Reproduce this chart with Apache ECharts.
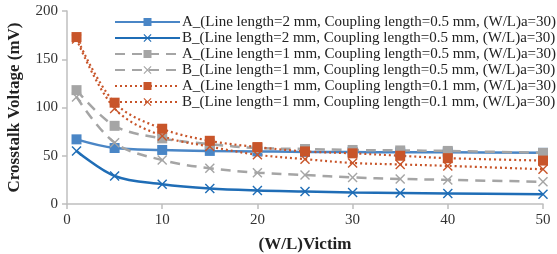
<!DOCTYPE html>
<html lang="en">
<head>
    <meta charset="UTF-8">
    <title>crosstalk</title>
    <script src="https://cdn.jsdelivr.net/npm/echarts@6/dist/echarts.min.js"></script>
    <style>
        html, body { margin: 0; padding: 0; background: #fff; }
    </style>
</head>
<body>
<div id="main" style="width:557px;height:254px;"></div>
<script>
    // W/L of victim line
    var wl = [1, 5, 10, 15, 20, 25, 30, 35, 40, 50];

    var names = [
        'A_(Line length=2 mm, Coupling length=0.5 mm, (W/L)a=30)',
        'B_(Line length=2 mm, Coupling length=0.5 mm, (W/L)a=30)',
        'A_(Line length=1 mm, Coupling length=0.5 mm, (W/L)a=30)',
        'B_(Line length=1 mm, Coupling length=0.5 mm, (W/L)a=30)',
        'A_(Line length=1 mm, Coupling length=0.1 mm, (W/L)a=30)',
        'B_(Line length=1 mm, Coupling length=0.1 mm, (W/L)a=30)'
    ];

    var a2_05 = [67, 58, 56, 55, 54.5, 54, 54, 53.5, 53.5, 53];
    var b2_05 = [55, 29, 20.5, 16, 14, 13, 12, 11.5, 11, 10];
    var a1_05 = [118, 81, 68, 62, 58, 57, 56, 55.5, 55, 53];
    var b1_05 = [111, 63.5, 45.5, 37, 32.5, 30, 27.5, 26, 25, 23];
    var a1_01 = [173, 105, 78, 65.5, 59, 54.5, 52.5, 50, 47.5, 45];
    var b1_01 = [171, 99, 70.5, 59.5, 51, 46.5, 42.5, 41, 39.5, 36];

    var cross = 'path://M0,1L1,0L5,4L9,0L10,1L6,5L10,9L9,10L5,6L1,10L0,9L4,5Z';
    var serif = '"Liberation Serif", "DejaVu Serif", serif';

    function pairs(vals) {
        var out = [];
        for (var i = 0; i < wl.length; i++) {
            out.push([wl[i], vals[i]]);
        }
        return out;
    }

    function mk(name, vals, color, symbol, lineType, width) {
        return {
            name: name,
            type: 'line',
            data: pairs(vals),
            smooth: 0.35,
            symbol: symbol,
            symbolSize: 10,
            color: color,
            itemStyle: { color: color },
            lineStyle: { color: color, width: width, type: lineType },
            z: 2
        };
    }

    var myChart = echarts.init(document.getElementById('main'));

    var option = {
        animation: false,
        grid: { left: 67, right: 14, top: 11, bottom: 50, containLabel: false, outerBoundsMode: 'none' },
        legend: {
            orient: 'vertical',
            left: 109,
            top: 9,
            itemWidth: 65,
            itemHeight: 10,
            itemGap: 0,
            textStyle: { fontFamily: serif, fontSize: 15, lineHeight: 16, color: '#222', padding: [0, 0, 0, -3] },
            data: names
        },
        xAxis: {
            type: 'value',
            min: 0, max: 50, interval: 10,
            name: '(W/L)Victim',
            nameLocation: 'middle',
            nameGap: 32,
            nameTextStyle: { fontFamily: serif, fontSize: 17, fontWeight: 'bold', color: '#222' },
            axisLine: { lineStyle: { color: '#bfbfbf', width: 1.5 } },
            axisTick: { show: true, length: 5, lineStyle: { color: '#bfbfbf', width: 1.5 } },
            axisLabel: { fontFamily: serif, fontSize: 15, color: '#333', margin: 9 },
            splitLine: { show: false }
        },
        yAxis: {
            type: 'value',
            min: 0, max: 200, interval: 50,
            name: 'Crosstalk Voltage (mV)',
            nameLocation: 'middle',
            nameGap: 44,
            nameTextStyle: { fontFamily: serif, fontSize: 17, fontWeight: 'bold', color: '#222' },
            axisLine: { show: true, lineStyle: { color: '#bfbfbf', width: 1.5 } },
            axisTick: { show: true, length: 5, lineStyle: { color: '#bfbfbf', width: 1.5 } },
            axisLabel: { fontFamily: serif, fontSize: 15, color: '#333', margin: 9 },
            splitLine: { show: false }
        },
        series: [
            mk(names[0], a2_05, '#4a86c6', 'rect', 'solid', 2.5),
            mk(names[1], b2_05, '#1f6db6', cross, 'solid', 2.5),
            mk(names[2], a1_05, '#a5a5a5', 'rect', [10, 7], 2.5),
            mk(names[3], b1_05, '#a5a5a5', cross, [10, 7], 2.5),
            mk(names[4], a1_01, '#c8552a', 'rect', [2, 3], 2.2),
            mk(names[5], b1_01, '#c8552a', cross, [2, 3], 2.2)
        ]
    };

    myChart.setOption(option);
</script>
</body>
</html>
